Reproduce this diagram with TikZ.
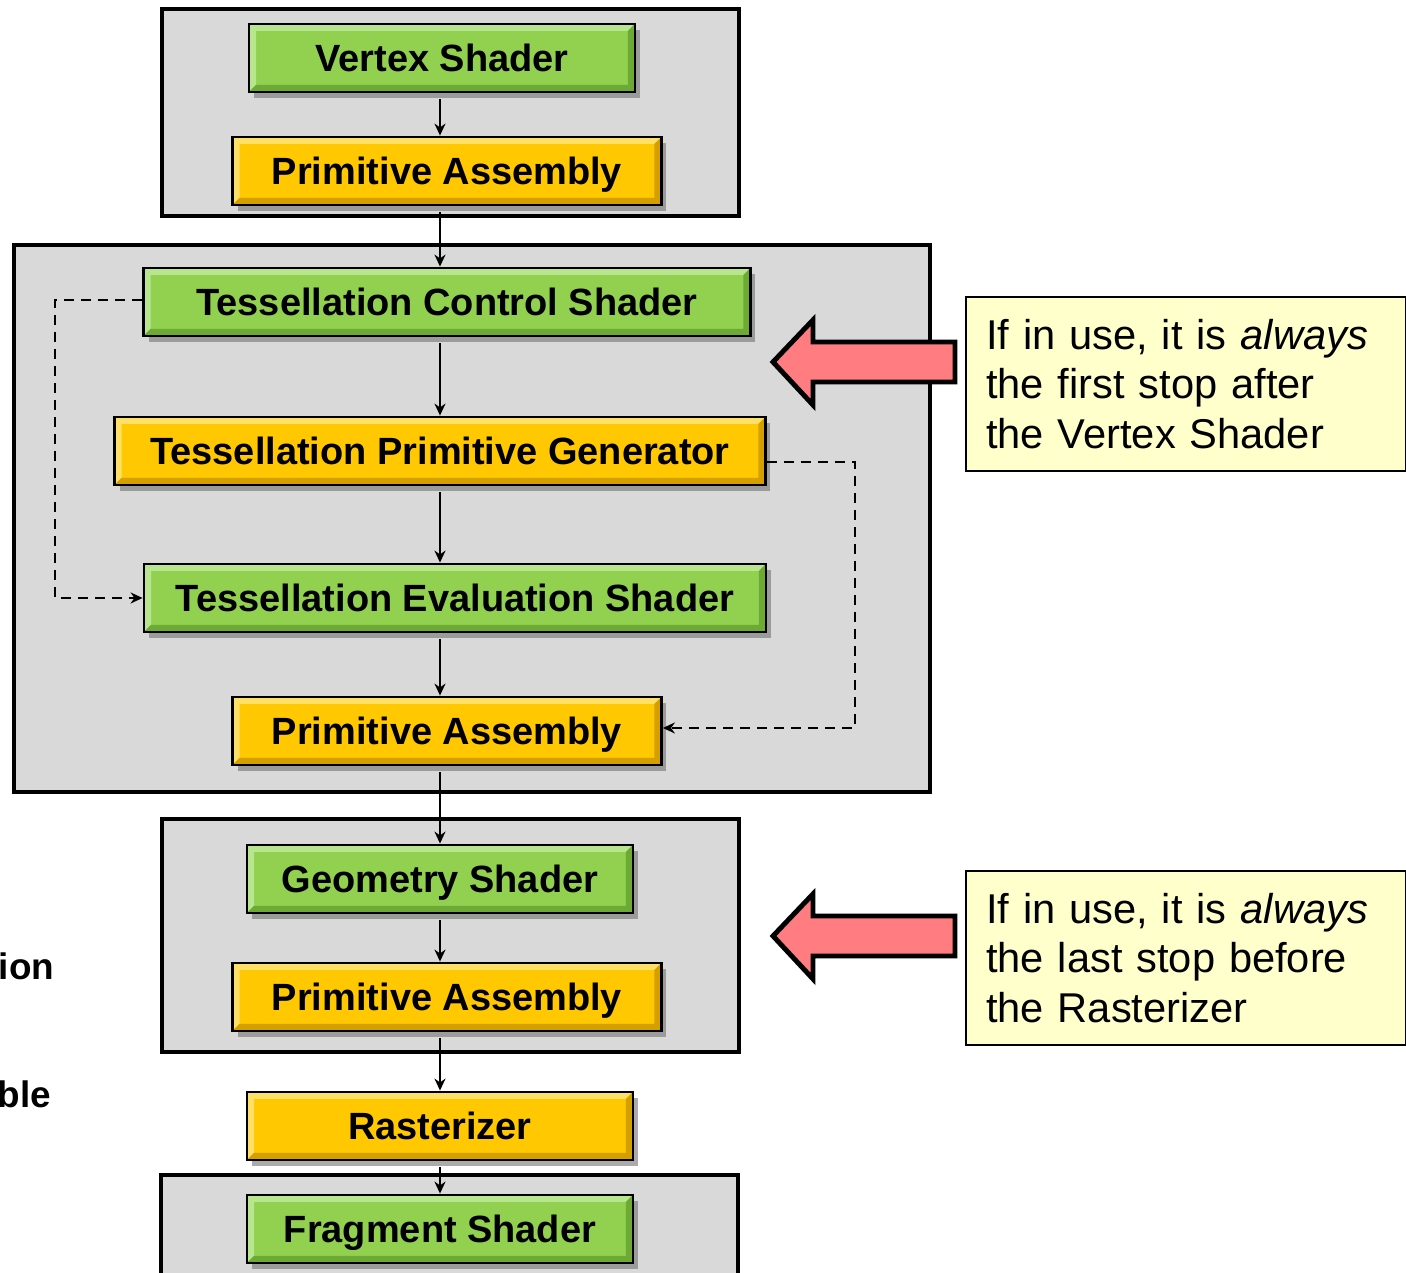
\documentclass[tikz,border=0pt]{standalone}
\usepackage{fontspec}
\setmainfont{Liberation Sans}
\usetikzlibrary{arrows.meta,shadows}

\definecolor{groupgray}{HTML}{D9D9D9}
\definecolor{facegreen}{HTML}{92D050}
\definecolor{lightgreen}{HTML}{B8E68E}
\definecolor{darkgreen}{HTML}{6DAA35}
\definecolor{faceyellow}{HTML}{FFC800}
\definecolor{lightyellow}{HTML}{FFE066}
\definecolor{darkyellow}{HTML}{D4A000}
\definecolor{notefill}{HTML}{FFFFCC}
\definecolor{pointerred}{HTML}{FF7C80}

% raised edge of a stage box
\newcommand\bevel[2]{%
  \path (path picture bounding box.north west) coordinate (bnw)
        (path picture bounding box.south east) coordinate (bse);
  \fill [#1] (bnw) -- (bnw -| bse) -- ++(-0.7mm,-0.7mm) -- ([shift={(0.7mm,-0.7mm)}]bnw)
        -- ([shift={(0.7mm,0.7mm)}]bnw |- bse) -- (bnw |- bse) -- cycle;
  \fill [#2] (bse) -- (bse |- bnw) -- ++(-0.7mm,-0.7mm) -- ([shift={(-0.7mm,0.7mm)}]bse)
        -- ([shift={(0.7mm,0.7mm)}]bse -| bnw) -- (bse -| bnw) -- cycle;
}

\begin{document}
\begin{tikzpicture}[x=0.1mm, y=-0.1mm,
    stagegroup/.style={draw, line width=1.1pt, fill=groupgray},
    stage/.style={draw, line width=0.8pt, inner sep=0pt, minimum height=6.8mm,
      text height=2.75mm, text depth=0pt,
      font=\fontsize{10.8}{13}\selectfont\bfseries,
      drop shadow={shadow xshift=0.5mm, shadow yshift=-0.6mm, fill=black!55, opacity=0.6}},
    shaderstage/.style={stage, fill=facegreen, path picture={\bevel{lightgreen}{darkgreen}}},
    fixedstage/.style={stage, fill=faceyellow, path picture={\bevel{lightyellow}{darkyellow}}},
    flow/.style={-{Stealth[length=1.2mm,width=1.1mm]}, line width=0.55pt, shorten <=0.6mm},
    dashflow/.style={flow, dash pattern=on 1mm off 0.7mm, shorten <=0pt},
    notebox/.style={draw, line width=0.6pt, fill=notefill, align=left, text width=40mm,
      inner xsep=2mm, minimum height=17.4mm, anchor=north west,
      font=\fontsize{11.85}{14.2}\selectfont},
    bigarrow/.style={draw, line width=1.4pt, fill=pointerred, line join=miter}]
    \useasboundingbox (0,0) rectangle (1406,1273);
    \clip (0,0) rectangle (1406,1273);

    \draw [stagegroup] (162,9) rectangle (739,216);
    \draw [stagegroup] (14,245) rectangle (930,792);
    \draw [stagegroup] (162,819) rectangle (739,1052);
    \draw [stagegroup] (161,1175) rectangle (738,1290);

    \node [shaderstage, minimum width=38.6mm] (vs) at (442,58) {Vertex Shader};
    \node [fixedstage, minimum width=42.9mm] (pa1) at (447,171) {Primitive Assembly};
    \node [shaderstage, minimum width=60.7mm] (tcs) at (447,302) {Tessellation Control Shader};
    \node [fixedstage, minimum width=65.1mm] (tpg) at (440,451) {Tessellation Primitive Generator};
    \node [shaderstage, minimum width=62.2mm] (tes) at (455,598) {Tessellation Evaluation Shader};
    \node [fixedstage, minimum width=42.9mm] (pa2) at (447,731) {Primitive Assembly};
    \node [shaderstage, minimum width=38.6mm] (gs) at (440,879) {Geometry Shader};
    \node [fixedstage, minimum width=42.9mm] (pa3) at (447,997) {Primitive Assembly};
    \node [fixedstage, minimum width=38.6mm] (rast) at (440,1126) {Rasterizer};
    \node [shaderstage, minimum width=38.6mm] (fs) at (440,1229) {Fragment Shader};

    \coordinate (spine) at (440,0);
    \foreach \a/\b in {vs/pa1, pa1/tcs, tcs/tpg, tpg/tes, tes/pa2, pa2/gs, gs/pa3, pa3/rast, rast/fs}
        \draw [flow] (\a.south -| spine) -- (\b.north -| spine);

    \draw [dashflow] ([yshift=0.2mm]tcs.west) -- ++(-87,0) |- (tes.west);
    \draw [dashflow] ([yshift=-1.1mm]tpg.east) -- ++(88,0) |- ([yshift=0.3mm]pa2.east);

    \foreach \y in {362,936}
        \draw [bigarrow] (955,\y-20) -- (813,\y-20) -- (813,\y-42) -- (773,\y)
            -- (813,\y+43) -- (813,\y+20) -- (955,\y+20) -- cycle;

    \node [notebox] (note1) at (965,296) {If in use, it is \textit{always}\\the first stop after\\the Vertex Shader};
    \node [notebox] (note2) at (965,870) {If in use, it is \textit{always}\\the last stop before\\the Rasterizer};

    \node [anchor=base east, inner sep=0pt, font=\fontsize{10.5}{12}\selectfont\bfseries] (cution) at (55,980) {ion};
    \node [anchor=base east, inner sep=0pt, font=\fontsize{10.5}{12}\selectfont\bfseries] (cutble) at (52,1108) {ble};
\end{tikzpicture}
\end{document}
